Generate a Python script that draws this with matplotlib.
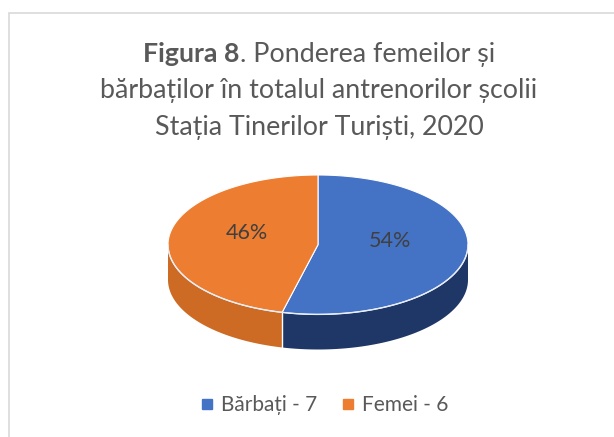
import numpy as np
import matplotlib

matplotlib.use("Agg")
import matplotlib.pyplot as plt
from matplotlib.lines import Line2D
from matplotlib.patches import Polygon, Rectangle

plt.rcParams["font.family"] = ["Lato", "DejaVu Sans"]

# data
labels = ["Bărbați", "Femei"]
counts = [7, 6]
top_colors = ["#4472C4", "#ED7D31"]
side_colors = ["#1F3766", "#CD6A24"]
title_bold = "Figura 8"
title_rest = [". Ponderea femeilor și", "bărbaților în totalul antrenorilor școlii",
              "Stația Tinerilor Turiști, 2020"]

W, H = 614, 437
fig = plt.figure(figsize=(W / 100, H / 100), dpi=100)
text_col = "#595959"
title_fs = 19.3

# chart area border (only top/left visible in the crop)
fig.add_artist(Rectangle((9 / W, -0.1), 1.2, 1.1 - 13 / H, transform=fig.transFigure,
                         fill=False, edgecolor="#D9D9D9", lw=1.2))

# title
cx = 319 / W
t1 = fig.text(cx, 1 - 62 / H, title_bold, fontsize=title_fs, weight="bold", color=text_col,
              va="baseline", ha="left")
t2 = fig.text(cx, 1 - 62 / H, title_rest[0], fontsize=title_fs, color=text_col,
              va="baseline", ha="left")
fig.canvas.draw()
r = fig.canvas.get_renderer()
w1 = t1.get_window_extent(r).width
w2 = t2.get_window_extent(r).width
x0 = cx * W - (w1 + w2) / 2
t1.set_x(x0 / W)
t2.set_x((x0 + w1) / W)
fig.text(cx, 1 - 98 / H, title_rest[1], fontsize=title_fs, color=text_col, ha="center", va="baseline")
fig.text(cx, 1 - 135 / H, title_rest[2], fontsize=title_fs, color=text_col, ha="center", va="baseline")

# 3D pie
ry = 69.5 / 150
depth = 35 / 150
ax = fig.add_axes([168 / W, (H - 349.5) / H, 300 / W, 174.5 / H])
ax.set_xlim(-1, 1)
ax.set_ylim(-ry - depth, ry)
ax.axis("off")

frac = np.array(counts) / sum(counts)
starts = 90 - 360 * np.concatenate([[0], np.cumsum(frac)[:-1]])
ends = starts - 360 * frac

for s, e, tc, sc, f in zip(starts, ends, top_colors, side_colors, frac):
    t = np.radians(np.linspace(s, e, 200))
    x, y = np.cos(t), ry * np.sin(t)
    vis = np.sin(t) <= 1e-9
    if vis.any():
        xs, ys = x[vis], y[vis]
        side = np.column_stack([np.r_[xs, xs[::-1]], np.r_[ys, ys[::-1] - depth]])
        ax.add_patch(Polygon(side, closed=True, facecolor=sc, edgecolor="none", zorder=1))
    top = np.column_stack([np.r_[0, x], np.r_[0, y]])
    ax.add_patch(Polygon(top, closed=True, facecolor=tc, edgecolor="white", lw=0.8, zorder=2))
    m = np.radians((s + e) / 2)
    ax.text(0.48 * np.cos(m), 0.48 * ry * np.sin(m) + 0.05, f"{round(f * 100)}%",
            fontsize=15.5, color="#404040", ha="center", va="center", zorder=3)
    # seam on the side
    if np.sin(np.radians(e)) < 0 and e > -270:
        ex, ey = np.cos(np.radians(e)), ry * np.sin(np.radians(e))
        ax.plot([ex, ex], [ey, ey - depth], color="white", lw=1, zorder=2)

# front rim highlight
t = np.radians(np.linspace(-180, 0, 200))
ax.plot(np.cos(t), ry * np.sin(t), color="#E8EEF8", lw=1, zorder=2.5)

# legend
handles = [Line2D([], [], marker="s", ls="", color=c, markersize=7.5) for c in top_colors]
leg_labels = [f"{l} - {n}" for l, n in zip(labels, counts)]
fig.legend(handles, leg_labels, loc="center", bbox_to_anchor=(324 / W, 1 - 405 / H), ncol=2,
           frameon=False, fontsize=15, handlelength=0.7, handletextpad=0.3,
           columnspacing=1.15, labelcolor=text_col)

fig.savefig("out.png", dpi=100)
